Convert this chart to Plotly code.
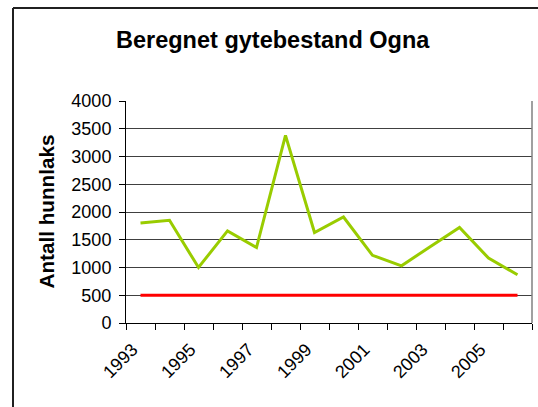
import plotly.graph_objects as go

years = list(range(1993, 2007))
gytebestand = [1800, 1850, 1000, 1660, 1360, 3380, 1630, 1910, 1220, 1030, 1380, 1720, 1170, 870]
gytebestandsmaal = [500] * len(years)

y_ticks = [0, 500, 1000, 1500, 2000, 2500, 3000, 3500, 4000]
x_label_years = [1993, 1995, 1997, 1999, 2001, 2003, 2005]

title_text = "Beregnet gytebestand Ogna"
y_title = "Antall hunnlaks"

FONT = "Liberation Sans, Arial, sans-serif"

fig = go.Figure()
fig.add_trace(go.Scatter(x=years, y=gytebestand, mode="lines",
                         line=dict(color="#99CC00", width=3), showlegend=False))
fig.add_trace(go.Scatter(x=years, y=gytebestandsmaal, mode="lines",
                         line=dict(color="#FF0000", width=3), showlegend=False))

boundaries = [y - 0.5 for y in years] + [years[-1] + 0.5]

# frame positions in paper units (plot area: x 126..532 px, y 101..323 px)
fx0 = (13 - 126) / 406
fy1 = (323 - 8) / 222

fig.update_layout(
    width=538, height=407,
    margin=dict(l=126, r=6, t=101, b=84, autoexpand=False),
    paper_bgcolor="white", plot_bgcolor="white",
    font=dict(family=FONT, color="black", size=18),
    xaxis=dict(
        range=[years[0] - 0.5, years[-1] + 0.5],
        tickmode="array", tickvals=x_label_years,
        ticktext=[str(y) for y in x_label_years],
        tickangle=-45, ticks="", showgrid=False, zeroline=False,
        showline=True, linecolor="black", linewidth=1,
        tickfont=dict(family=FONT, size=18),
        automargin=False,
        ticklabelshift=-8, ticklabelstandoff=8,
        minor=dict(tickmode="array", tickvals=boundaries, ticks="outside",
                   ticklen=6, tickcolor="black", tickwidth=1, showgrid=False),
    ),
    yaxis=dict(
        range=[0, 4000], tickmode="array", tickvals=y_ticks,
        ticks="outside", ticklen=6, tickcolor="black",
        showgrid=True, gridcolor="#404040", gridwidth=1,
        zeroline=False, showline=True, linecolor="black", linewidth=1,
        tickfont=dict(family=FONT, size=18),
        automargin=False,
        ticklabelstandoff=4,
    ),
    shapes=[
        dict(type="line", xref="paper", yref="paper", x0=1, x1=1, y0=0, y1=1,
             line=dict(color="#808080", width=1.5)),
        dict(type="line", xref="paper", yref="paper", x0=fx0, x1=1.1, y0=fy1, y1=fy1,
             line=dict(color="#202020", width=2)),
        dict(type="line", xref="paper", yref="paper", x0=fx0, x1=fx0, y0=-0.5, y1=fy1,
             line=dict(color="#202020", width=2)),
    ],
    annotations=[
        dict(text="<b>" + title_text + "</b>", xref="paper", yref="paper",
             x=(272.5 - 126) / 406, y=(323 - 40) / 222, xanchor="center", yanchor="middle",
             showarrow=False, font=dict(family=FONT, size=23.5, color="black")),
        dict(text="<b>" + y_title + "</b>", xref="paper", yref="paper",
             x=(47 - 126) / 406, y=0.502, xanchor="center", yanchor="middle",
             textangle=-90, showarrow=False,
             font=dict(family=FONT, size=20.7, color="black")),
    ],
)

fig.write_html(
    "out.html",
    config={"displayModeBar": False},
    post_script="document.body.style.margin='0';document.body.style.overflow='hidden';",
)
